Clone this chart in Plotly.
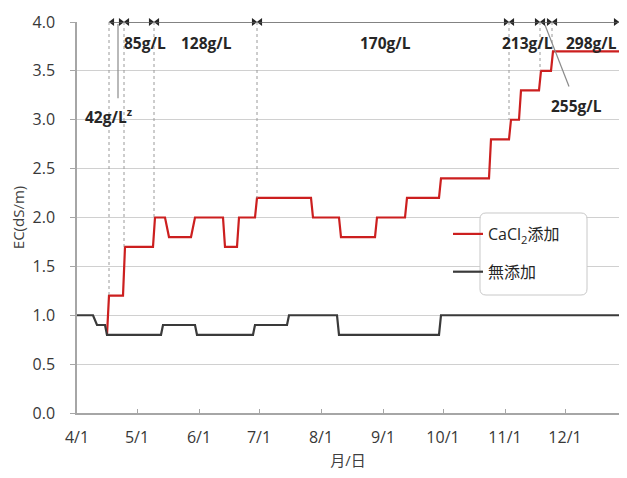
import pandas as pd
import plotly.graph_objects as go

# ---------------- data ----------------
mutenka_dates = ["2015-04-01", "2015-04-09", "2015-04-11", "2015-04-15", "2015-04-16",
                 "2015-05-13", "2015-05-14", "2015-05-30", "2015-05-31", "2015-06-28",
                 "2015-06-29", "2015-07-15", "2015-07-16", "2015-08-09", "2015-08-10",
                 "2015-09-29", "2015-09-30", "2015-12-31"]
mutenka_ec = [1.0, 1.0, 0.9, 0.9, 0.8,
              0.8, 0.9, 0.9, 0.8, 0.8,
              0.9, 0.9, 1.0, 1.0, 0.8,
              0.8, 1.0, 1.0]

cacl2_dates = ["2015-04-16", "2015-04-17", "2015-04-24", "2015-04-25", "2015-05-09",
               "2015-05-10", "2015-05-15", "2015-05-17", "2015-05-28", "2015-05-30",
               "2015-06-13", "2015-06-14", "2015-06-20", "2015-06-21", "2015-06-29",
               "2015-06-30", "2015-07-27", "2015-07-28", "2015-08-10", "2015-08-11",
               "2015-08-28", "2015-08-29", "2015-09-12", "2015-09-13", "2015-09-29",
               "2015-09-30", "2015-10-24", "2015-10-25", "2015-11-03", "2015-11-04",
               "2015-11-08", "2015-11-09", "2015-11-18", "2015-11-19", "2015-11-24",
               "2015-11-25", "2015-12-31"]
cacl2_ec = [0.8, 1.2, 1.2, 1.7, 1.7,
            2.0, 2.0, 1.8, 1.8, 2.0,
            2.0, 1.7, 1.7, 2.0, 2.0,
            2.2, 2.2, 2.0, 2.0, 1.8,
            1.8, 2.0, 2.0, 2.2, 2.2,
            2.4, 2.4, 2.8, 2.8, 3.0,
            3.0, 3.3, 3.3, 3.5, 3.5,
            3.7, 3.7]

# concentration periods (start of each CaCl2 concentration)
conc_labels = ["42g/L<sup>z</sup>", "85g/L", "128g/L", "170g/L", "213g/L", "255g/L", "298g/L"]
conc_start = ["2015-04-17 00:00", "2015-04-24 12:00", "2015-05-09 12:00", "2015-06-30 00:00",
              "2015-11-03 00:00", "2015-11-18 12:00", "2015-11-24 12:00"]
conc_end = conc_start[1:] + ["2015-12-28 00:00"]
conc_start_ec = [1.2, 1.7, 2.0, 2.2, 3.0, 3.5, 3.7]

tick_dates = ["2015-04-01", "2015-05-01", "2015-06-01", "2015-07-01", "2015-08-01",
              "2015-09-01", "2015-10-01", "2015-11-01", "2015-12-01"]
tick_labels = ["4/1", "5/1", "6/1", "7/1", "8/1", "9/1", "10/1", "11/1", "12/1"]

series_names = ["CaCl<sub>2</sub>添加", "無添加"]

# ---------------- figure ----------------
FONT = "Open Sans, Noto Sans CJK JP, sans-serif"
OFF = 8                      # default page body margin
W, H = 627 - 2 * OFF, 478 - 2 * OFF
X_LEFT, Y_TOP, Y_BOTTOM = 77, 22, 413     # screen pixels of plot area
ML, MR, MT = X_LEFT - OFF, 0, Y_TOP - OFF
MB = H - (Y_BOTTOM - OFF)
PW, PH = W - ML - MR, H - MT - MB


def px2paper(px, py):
    return (px - X_LEFT) / PW, (Y_BOTTOM - py) / PH


fig = go.Figure()
fig.add_trace(go.Scatter(x=cacl2_dates, y=cacl2_ec, mode="lines", name=series_names[0],
                         line=dict(color="#cc1f1f", width=2.2), legendgroup="a"))
fig.add_trace(go.Scatter(x=mutenka_dates, y=mutenka_ec, mode="lines", name=series_names[1],
                         line=dict(color="#3a3a3a", width=2.2), legendgroup="b"))

# dimension arrows along the top (line + triangle heads pointing at each boundary)
tip = pd.Timedelta(hours=40)
s_dt = pd.to_datetime(pd.Series(conc_start), format="%Y-%m-%d %H:%M")
e_dt = pd.to_datetime(pd.Series(conc_end), format="%Y-%m-%d %H:%M")
head_x = [t.strftime("%Y-%m-%d %H:%M") for t in list(s_dt + tip) + list(e_dt - tip)]
head_sym = ["triangle-left"] * len(conc_start) + ["triangle-right"] * len(conc_end)
fig.add_trace(go.Scatter(x=head_x, y=[4.0] * len(head_x), mode="markers", showlegend=False,
                         hoverinfo="skip", cliponaxis=False,
                         marker=dict(symbol=head_sym, size=7, color="#262626",
                                     line=dict(width=0))))

shapes = []
shapes.append(dict(type="line", xref="x", yref="y", x0=conc_start[0], x1=conc_end[-1],
                   y0=4.0, y1=4.0, line=dict(color="#5a5a5a", width=1.3), layer="above"))
# dotted guide lines from the top to the red line
for d, v in zip(conc_start, conc_start_ec):
    shapes.append(dict(type="line", xref="x", yref="y", x0=d, x1=d, y0=4.0, y1=v,
                       line=dict(color="#9a9a9a", width=1, dash="dot"), layer="above"))
# leader lines
shapes.append(dict(type="line", xref="x", yref="y", x0="2015-04-21 12:00", x1="2015-04-21 12:00",
                   y0=3.98, y1=3.22, line=dict(color="#8a8a8a", width=1.2)))
shapes.append(dict(type="line", xref="x", yref="y", x0="2015-11-21", x1="2015-12-03",
                   y0=3.97, y1=3.34, line=dict(color="#8a8a8a", width=1.2)))

# legend box (rounded rectangle)
bx0, by0, bx1, by1, r = 480, 213, 587, 295, 6


def P(px, py):
    a, b = px2paper(px, py)
    return f"{a:.5f},{b:.5f}"


path = (f"M{P(bx0 + r, by0)} L{P(bx1 - r, by0)} Q{P(bx1, by0)} {P(bx1, by0 + r)} "
        f"L{P(bx1, by1 - r)} Q{P(bx1, by1)} {P(bx1 - r, by1)} L{P(bx0 + r, by1)} "
        f"Q{P(bx0, by1)} {P(bx0, by1 - r)} L{P(bx0, by0 + r)} Q{P(bx0, by0)} {P(bx0 + r, by0)} Z")
shapes.append(dict(type="path", xref="paper", yref="paper", path=path,
                   fillcolor="white", line=dict(color="#c8c8c8", width=1), layer="above"))

annotations = []
label_pos = [("2015-04-16 18:00", 3.04), ("2015-05-05", 3.785), ("2015-06-04 18:00", 3.785),
             ("2015-09-02", 3.785), ("2015-11-12", 3.785), ("2015-12-06 12:00", 3.14),
             ("2015-12-14 06:00", 3.785)]
for t, (xd, yv) in zip(conc_labels, label_pos):
    annotations.append(dict(x=xd, y=yv, xref="x", yref="y", text=t, showarrow=False,
                            font=dict(family=FONT, size=15.5, color="#262626", weight="bold")))

lx, ly = px2paper(448, 217)
fig.update_layout(
    width=W, height=H,
    margin=dict(l=ML, r=MR, t=MT, b=MB),
    paper_bgcolor="white", plot_bgcolor="white",
    font=dict(family=FONT, size=14, color="#404040"),
    shapes=shapes, annotations=annotations,
    showlegend=True,
    legend=dict(x=lx, y=ly, xanchor="left", yanchor="top",
                bgcolor="rgba(0,0,0,0)", borderwidth=0, tracegroupgap=14,
                font=dict(family=FONT, size=16, color="#262626"), traceorder="grouped"),
    xaxis=dict(type="date", range=["2015-04-01", "2015-12-28"], tickvals=tick_dates,
               ticktext=tick_labels, showgrid=False, showline=True, linecolor="#a6a6a6",
               linewidth=1.5, ticks="inside", ticklen=4, tickcolor="#a6a6a6",
               ticklabelstandoff=9, tickfont=dict(size=16, color="#383838"),
               title=dict(text="月/日", standoff=11, font=dict(size=15, color="#404040")),
               zeroline=False, fixedrange=True),
    yaxis=dict(range=[0, 4], dtick=0.5, tick0=0, tickformat=".1f", showgrid=True,
               gridcolor="#d0d0d0", gridwidth=1.3, showline=True, linecolor="#a6a6a6",
               linewidth=1.5, ticks="outside", ticklen=5, tickcolor="#a6a6a6",
               ticklabelstandoff=12, tickfont=dict(size=16, color="#383838"),
               title=dict(text="EC(dS/m)", standoff=9, font=dict(size=15, color="#404040")),
               zeroline=False, fixedrange=True),
)

fig.write_html("out.html")
